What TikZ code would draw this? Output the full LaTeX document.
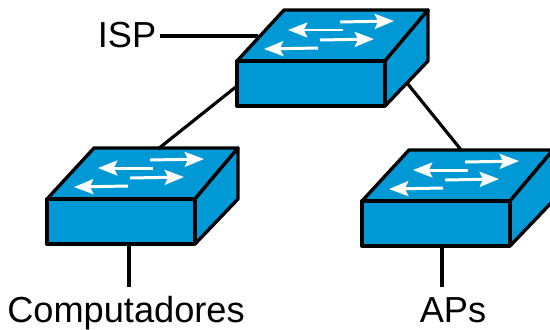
\documentclass[tikz,border=0pt]{standalone}
\usepackage{xcolor}
\usepackage{fontspec}
\setmainfont{Liberation Sans}
\usetikzlibrary{arrows.meta}
\definecolor{swblue}{RGB}{0,153,214}

\begin{document}
\begin{tikzpicture}[
  x=0.02cm,y=-0.02cm,
  lbl/.style={font=\fontsize{20.6pt}{24pt}\selectfont,inner sep=0pt},
  wire/.style={line width=1.8pt},
  edge/.style={draw=black,fill=swblue,line width=1.9pt,line join=round},
  flow/.style={draw=white,line width=1.7pt,-{Stealth[length=11pt,width=8.5pt,inset=2pt]}},
  pics/switchbox/.style={code={
    \path[edge] (0,0) -- (47,-51) -- (191,-51) -- (148,0) -- cycle;
    \path[edge] (148,0) -- (191,-51) -- (191,0) -- (148,45) -- cycle;
    \path[edge] (0,0) rectangle (148,45);
    \draw[flow] (103,-39) -- (157,-40);
    \draw[flow] (106,-31) -- (51,-31);
    \draw[flow] (83,-21) -- (137,-22);
    \draw[flow] (81,-13) -- (27,-12);
    \coordinate (-uleft) at (21,-25);
    \coordinate (-lface) at (0,25);
    \coordinate (-rface) at (170,22);
    \coordinate (-tone) at (111,-50);
    \coordinate (-ttwo) at (100,-50);
  }}
]
\clip (0,0) rectangle (550,329);

\pic (swtop) at (237,61) {switchbox};
\pic (swleft) at (47,199) {switchbox};
\pic (swright) at (362,201) {switchbox};

\node[lbl,anchor=base] (isp) at (127,47) {ISP};
\node[lbl,anchor=base] (comp) at (126,322) {Computadores};
\node[lbl,anchor=base] (aps) at (453,322) {APs};
\coordinate (lcomp) at (129,287);
\coordinate (laps) at (442,287);

\draw[wire] (isp.east |- 0,36) ++(3,0) coordinate (ispend) -- (swtop-uleft |- ispend);
\draw[wire] (swtop-lface) -- (swleft-tone);
\draw[wire] (swtop-rface) -- (swright-ttwo);
\draw[wire] (lcomp) -- (lcomp |- 0,246);
\draw[wire] (laps) -- (laps |- 0,248);

\end{tikzpicture}
\end{document}
